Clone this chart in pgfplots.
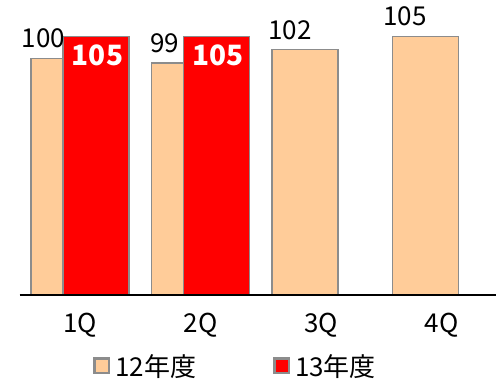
\documentclass[border=0pt]{standalone}
\usepackage{fontspec}
\setmainfont{Noto Sans CJK JP}
\usepackage{pgfplots}
\pgfplotsset{compat=1.18}
\definecolor{peach}{HTML}{FFCC99}
\definecolor{barred}{HTML}{FF0000}
\definecolor{edge}{HTML}{8C8C8C}
\newcommand\lf{\fontsize{26}{30}\selectfont}
\newcommand\bfl{\fontsize{28}{32}\selectfont\bfseries}
\begin{document}
\begin{tikzpicture}
\path[use as bounding box] (-19.75pt,-87pt) rectangle (476.25pt,295pt);
\begin{axis}[
  at={(0pt,0pt)}, anchor=south west,
  x=120.5pt, y=4.38pt,
  xmin=-0.5, xmax=3.45, ymin=46, ymax=112,
  axis x line*=bottom, axis y line=none,
  x axis line style={black, line width=1.2pt},
  axis on top,
  xtick={0,1,2,3}, xticklabels={1Q,2Q,3Q,4Q},
  major tick length=0pt, ytick=\empty,
  xticklabel style={font=\lf, inner sep=0pt, anchor=north, yshift=-18pt},
  legend style={at={(0.1539,-0.2456)}, anchor=west, draw=none, fill=none,
    inner sep=0pt, font=\lf, legend columns=2,
    /tikz/every even column/.append style={column sep=77pt},
    nodes={inner sep=0pt}},
  legend cell align=left,
  legend image code/.code={\draw[#1, line width=2.5pt] (1.25pt,-7.25pt) rectangle (15.75pt,7.25pt); \path[draw=none, fill=none] (0pt,0pt) -- (22pt,0pt);},
]
\addplot[ybar, bar width=66pt, bar shift=-16pt, fill=peach, draw=edge, line width=1.5pt]
  coordinates {(0,100) (1,99) (2,102) (3,105)};
\addplot[ybar, bar width=66pt, bar shift=16pt, fill=barred, draw=edge, line width=1.5pt,
  nodes near coords, point meta=explicit symbolic,
  nodes near coords style={font=\bfl, text=white, anchor=north, yshift=-7pt, xshift=17.5pt, inner sep=0pt}]
  coordinates {(0,105) [105] (1,105) [105]};
\addplot[only marks, mark=none, forget plot, nodes near coords, point meta=explicit symbolic,
  nodes near coords style={font=\lf, text=black, anchor=south, inner sep=0pt}]
  coordinates {(-0.303,102.3) [100] (0.705,101.3) [99] (1.743,104.3) [102] (2.697,107.3) [105]};
\legend{12年度,13年度}
\end{axis}
\end{tikzpicture}
\end{document}
